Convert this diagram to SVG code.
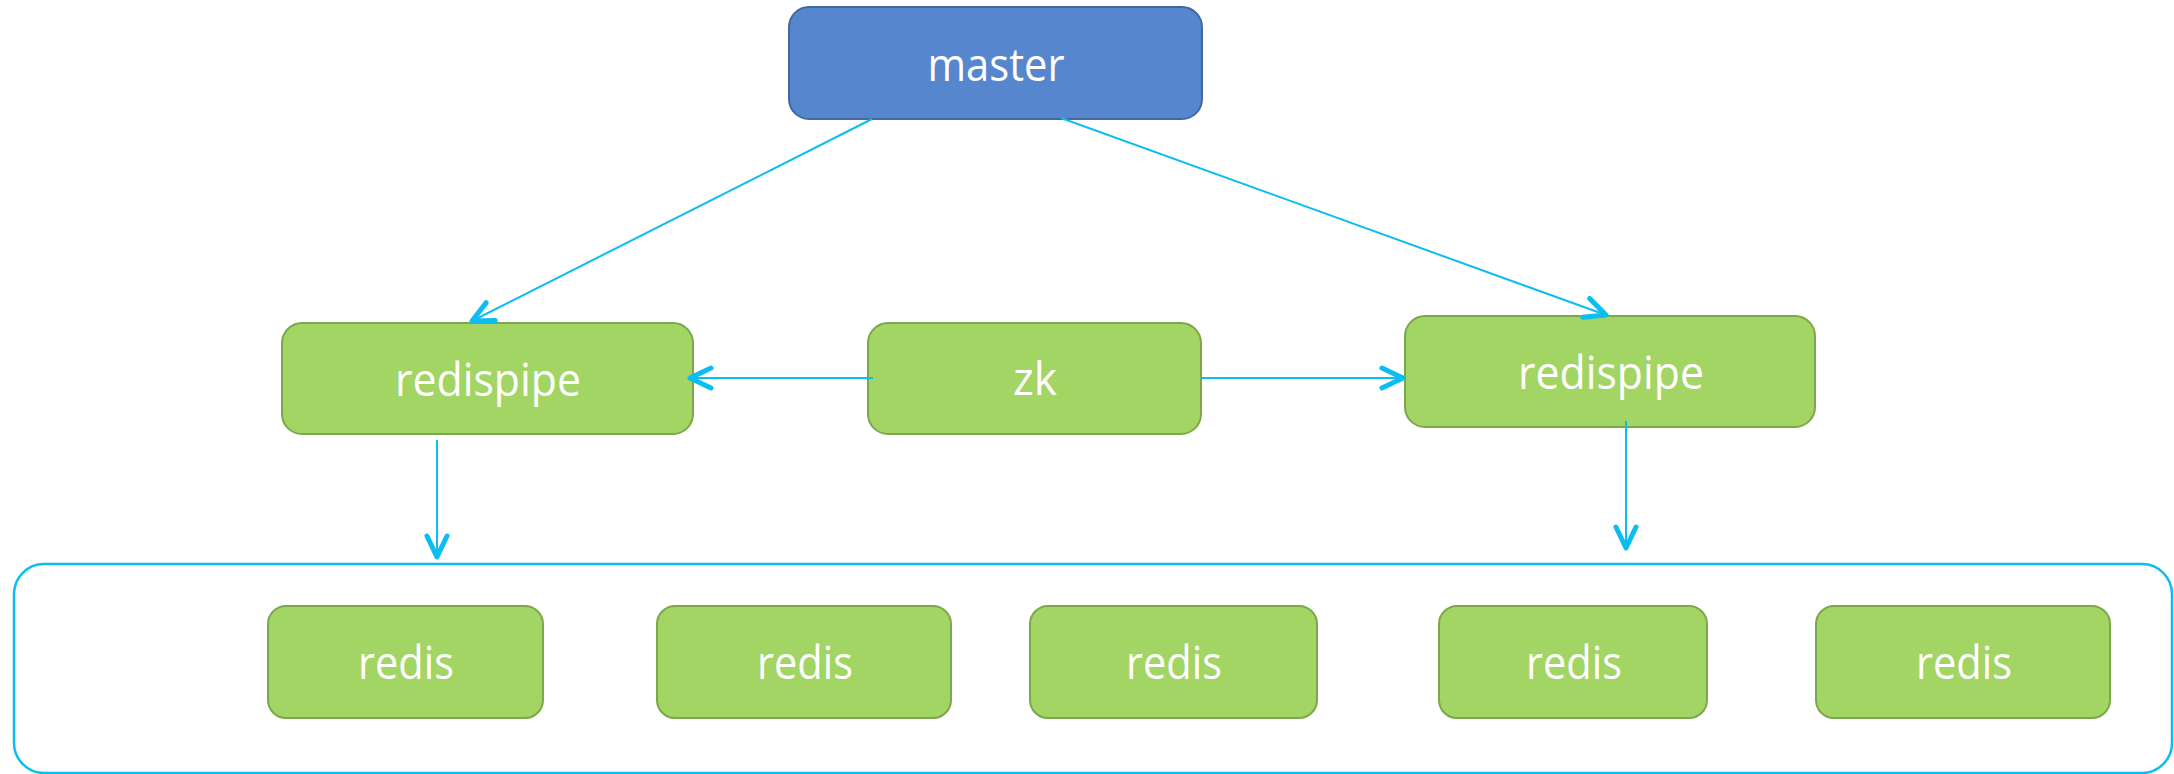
<svg xmlns="http://www.w3.org/2000/svg" width="2174" height="774" viewBox="0 0 2174 774">
<defs>
<style>
.blue{fill:#5586CE;stroke:#41699F;stroke-width:2}
.green{fill:#A2D563;stroke:#7BA84A;stroke-width:2}
.lbl{font-family:"Open Sans","Noto Sans","Liberation Sans",sans-serif;font-size:46px;fill:#FFFFFF;text-anchor:middle}
.conn{stroke:#0CBDF1;stroke-width:2;fill:none}
.frame{fill:none;stroke:#0CBDF1;stroke-width:2.5}
</style>
<marker id="arr" markerUnits="userSpaceOnUse" markerWidth="40" markerHeight="40" viewBox="-30 -20 40 40" refX="0" refY="0" orient="auto">
<path d="M-21,-10 L0,0 L-21,10" fill="none" stroke="#0CBDF1" stroke-width="5" stroke-linecap="round" stroke-linejoin="round"/>
</marker>
</defs>
<rect width="2174" height="774" fill="#FFFFFF"/>
<g id="cluster">
<rect class="frame" x="14" y="564" width="2158" height="209" rx="30" ry="30"/>
</g>
<g id="master">
<rect class="blue" x="789" y="7" width="413" height="112" rx="20" ry="20"/>
<text class="lbl" x="996" y="81" textLength="137" lengthAdjust="spacingAndGlyphs">master</text>
</g>
<g id="redispipe-left">
<rect class="green" x="282" y="323" width="411" height="111" rx="20" ry="20"/>
<text class="lbl" x="488" y="396" textLength="186" lengthAdjust="spacingAndGlyphs">redispipe</text>
</g>
<g id="zk">
<rect class="green" x="868" y="323" width="333" height="111" rx="20" ry="20"/>
<text class="lbl" x="1035" y="395" textLength="44" lengthAdjust="spacingAndGlyphs">zk</text>
</g>
<g id="redispipe-right">
<rect class="green" x="1405" y="316" width="410" height="111" rx="20" ry="20"/>
<text class="lbl" x="1611" y="389" textLength="186" lengthAdjust="spacingAndGlyphs">redispipe</text>
</g>
<g id="redis-1">
<rect class="green" x="268" y="606" width="275" height="112" rx="18" ry="18"/>
<text class="lbl" x="406" y="679" textLength="96" lengthAdjust="spacingAndGlyphs">redis</text>
</g>
<g id="redis-2">
<rect class="green" x="657" y="606" width="294" height="112" rx="18" ry="18"/>
<text class="lbl" x="805" y="679" textLength="96" lengthAdjust="spacingAndGlyphs">redis</text>
</g>
<g id="redis-3">
<rect class="green" x="1030" y="606" width="287" height="112" rx="18" ry="18"/>
<text class="lbl" x="1174" y="679" textLength="96" lengthAdjust="spacingAndGlyphs">redis</text>
</g>
<g id="redis-4">
<rect class="green" x="1439" y="606" width="268" height="112" rx="18" ry="18"/>
<text class="lbl" x="1574" y="679" textLength="96" lengthAdjust="spacingAndGlyphs">redis</text>
</g>
<g id="redis-5">
<rect class="green" x="1816" y="606" width="294" height="112" rx="18" ry="18"/>
<text class="lbl" x="1964" y="679" textLength="96" lengthAdjust="spacingAndGlyphs">redis</text>
</g>
<g id="connectors">
<line class="conn" x1="872" y1="119" x2="472" y2="321" marker-end="url(#arr)"/>
<line class="conn" x1="1061" y1="118" x2="1606" y2="315" marker-end="url(#arr)"/>
<line class="conn" x1="873" y1="378" x2="690" y2="378" marker-end="url(#arr)"/>
<line class="conn" x1="1201" y1="378" x2="1403" y2="378" marker-end="url(#arr)"/>
<line class="conn" x1="437" y1="440" x2="437" y2="557" marker-end="url(#arr)"/>
<line class="conn" x1="1626" y1="421" x2="1626" y2="548" marker-end="url(#arr)"/>
</g>
</svg>
